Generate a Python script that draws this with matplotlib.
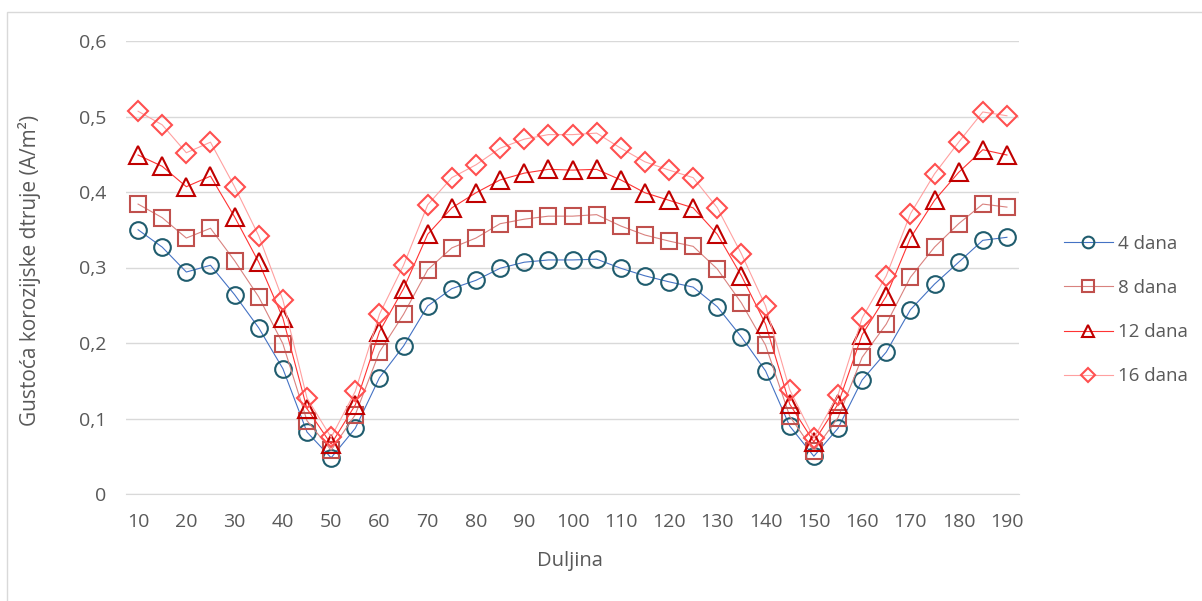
import matplotlib.pyplot as plt
from matplotlib.patches import Rectangle

plt.rcParams['font.family'] = ['Open Sans', 'DejaVu Sans']

duljina = list(range(10, 191, 5))

dana4 = [0.350, 0.327, 0.294, 0.303, 0.264, 0.220, 0.166, 0.082, 0.048, 0.087,
         0.154, 0.196, 0.249, 0.272, 0.283, 0.299, 0.307, 0.310, 0.310, 0.311,
         0.299, 0.289, 0.281, 0.274, 0.248, 0.208, 0.163, 0.090, 0.050, 0.087,
         0.151, 0.188, 0.244, 0.278, 0.307, 0.336, 0.340]
dana8 = [0.384, 0.366, 0.339, 0.352, 0.309, 0.261, 0.199, 0.097, 0.058, 0.105,
         0.188, 0.238, 0.297, 0.326, 0.339, 0.358, 0.364, 0.368, 0.368, 0.370,
         0.355, 0.343, 0.335, 0.328, 0.298, 0.253, 0.197, 0.103, 0.057, 0.101,
         0.181, 0.225, 0.287, 0.327, 0.358, 0.384, 0.380]
dana12 = [0.449, 0.434, 0.407, 0.421, 0.367, 0.307, 0.233, 0.113, 0.066, 0.118,
          0.215, 0.272, 0.344, 0.379, 0.399, 0.416, 0.425, 0.430, 0.429, 0.430,
          0.416, 0.399, 0.389, 0.379, 0.344, 0.289, 0.225, 0.119, 0.069, 0.119,
          0.211, 0.262, 0.339, 0.389, 0.426, 0.456, 0.449]
dana16 = [0.507, 0.489, 0.452, 0.466, 0.407, 0.342, 0.257, 0.127, 0.075, 0.136,
          0.238, 0.303, 0.383, 0.419, 0.436, 0.458, 0.470, 0.476, 0.476, 0.478,
          0.458, 0.440, 0.429, 0.419, 0.379, 0.318, 0.249, 0.138, 0.074, 0.131,
          0.233, 0.289, 0.371, 0.424, 0.466, 0.506, 0.501]

fig = plt.figure(figsize=(12.02, 6.01), dpi=100)
ax = fig.add_axes([126 / 1202, 1 - 494 / 601, (1019 - 126) / 1202, (494 - 41) / 601])

# chart area border
fig.patches.append(Rectangle((7 / 1202, -0.1), 1.2, 1 - 12 / 601 + 0.1, transform=fig.transFigure,
                             fill=False, edgecolor='#d9d9d9', linewidth=1))

ax.plot(duljina, dana4, color='#4472c4', linewidth=0.8, marker='o', markersize=12,
        markerfacecolor='none', markeredgecolor='#1f5c6e', markeredgewidth=1.5, label='4 dana')
ax.plot(duljina, dana8, color='#d9827f', linewidth=0.8, marker='s', markersize=12,
        markerfacecolor='none', markeredgecolor='#c0504d', markeredgewidth=1.5, label='8 dana')
ax.plot(duljina, dana12, color='#ff3333', linewidth=0.8, marker='^', markersize=13,
        markerfacecolor='none', markeredgecolor='#c00000', markeredgewidth=1.5, label='12 dana')
ax.plot(duljina, dana16, color='#ffa0a0', linewidth=0.8, marker='D', markersize=10,
        markerfacecolor='none', markeredgecolor='#ff5050', markeredgewidth=1.5, label='16 dana')

ax.set_xlim(7.5, 192.5)
ax.set_ylim(0, 0.6)
ax.set_xticks(list(range(10, 191, 10)))
ax.set_yticks([0, 0.1, 0.2, 0.3, 0.4, 0.5, 0.6])
ax.set_yticklabels(['0', '0,1', '0,2', '0,3', '0,4', '0,5', '0,6'])
ax.tick_params(axis='both', length=0, labelsize=14, labelcolor='#595959')
ax.tick_params(axis='y', pad=14)
ax.tick_params(axis='x', pad=14)
ax.grid(True, axis='y', color='#d9d9d9', linewidth=1)
ax.set_axisbelow(True)
for s in ['top', 'right', 'left']:
    ax.spines[s].set_visible(False)
ax.spines['bottom'].set_color('#d9d9d9')

ax.set_xlabel('Duljina', fontsize=14.5, color='#595959')
ax.set_ylabel('Gustoća korozijske dtruje (A/m²)', fontsize=15, color='#595959')
ax.xaxis.set_label_coords(570 / 1202, 1 - 561 / 601, transform=fig.transFigure)
ax.yaxis.set_label_coords(30 / 1202, 1 - 270 / 601, transform=fig.transFigure)
ax.xaxis.label.set_va('center')
ax.yaxis.label.set_va('center')

ax.legend(loc='center left', bbox_to_anchor=(1047 / 1202, 1 - 310 / 601), bbox_transform=fig.transFigure,
          frameon=False, fontsize=13.5, labelcolor='#595959', markerscale=0.7, handlelength=2.6,
          handletextpad=0.3, labelspacing=1.4)

fig.savefig('out.png', dpi=100)
plt.close()
